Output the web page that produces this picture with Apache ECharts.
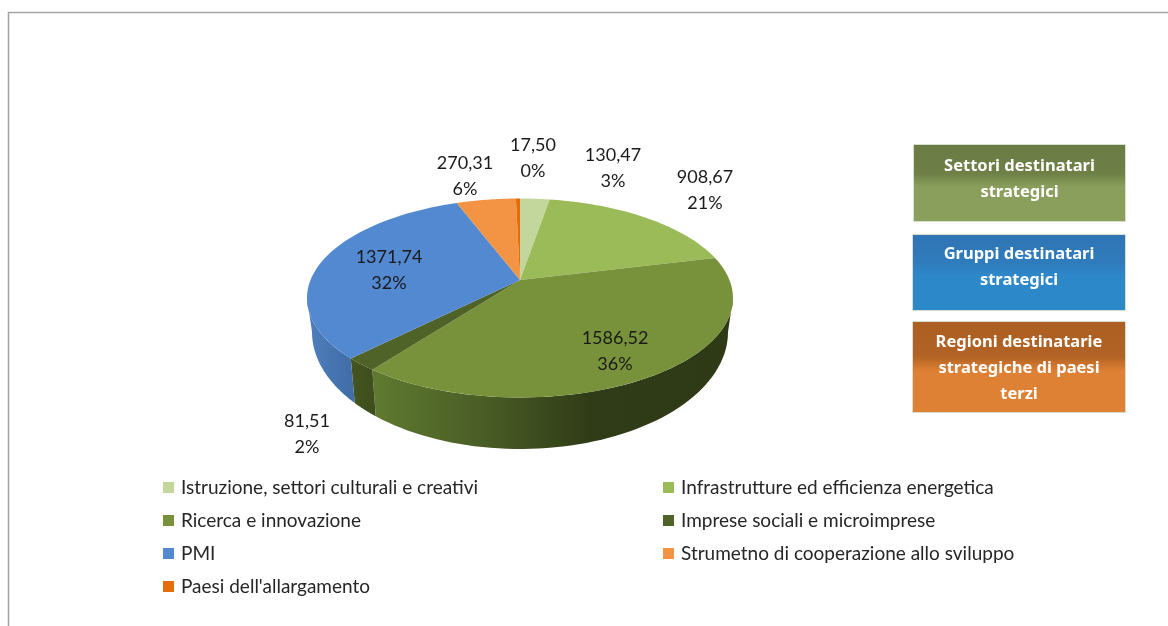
<!DOCTYPE html>
<html>
<head>
<meta charset="utf-8">
<style>
    html, body { margin: 0; padding: 0; background: #fff; }
    #chart { width: 1168px; height: 626px; }
</style>
<script src="https://cdn.jsdelivr.net/npm/echarts@6/dist/echarts.min.js"></script>
</head>
<body>
<div id="chart"></div>
<script>
'use strict';

// clockwise from 12 o'clock
var categories = [
    'Istruzione, settori culturali e creativi',
    'Infrastrutture ed efficienza energetica',
    'Ricerca e innovazione',
    'Imprese sociali e microimprese',
    'PMI',
    'Strumetno di cooperazione allo sviluppo',
    "Paesi dell'allargamento"
];
var values = [130.47, 908.67, 1586.52, 81.51, 1371.74, 270.31, 17.50];
// as printed on the chart (PMI is printed as 32%)
var percents = [3, 21, 36, 2, 32, 6, 0];
var boxTexts = [
    'Settori destinatari\nstrategici',
    'Gruppi destinatari\nstrategici',
    'Regioni destinatarie\nstrategiche di paesi\nterzi'
];

var topColors = ['#c3d69b', '#9bbb59', '#77923a', '#4f6228', '#5289d1', '#f39344', '#e46c0a'];
var wallStops = [
    null,
    null,
    [[0, '#5f7a30'], [0.3, '#4a5e25'], [0.6, '#303c17'], [1, '#2e3915']],
    [[0, '#44551f'], [1, '#3e4d1c']],
    [[0, '#4f7fbe'], [1, '#3f6ca6']],
    null,
    null
];
var labelPos = [[613, 168], [705, 190], [615, 351], [307, 434], [389, 270], [465, 176], [533, 158]];

// top face of the pie
var CX = 520, CY = 298, RX = 213, RY = 99.5;
// apex sits above the ellipse centre because of the perspective
var APEX_Y = 280;
var TILT = 0.5;
var WARP = 8.5 * Math.PI / 180;
// bottom rim
var BOTTOM_CY = 332, BOTTOM_RX = 208, BOTTOM_RY = 117;

var total = values.reduce(function (a, b) { return a + b; }, 0);

// point of the top rim for a data angle (radians, clockwise from 12)
function rimParam(a) {
    var s = Math.sin(a);
    var w = a - WARP * s * Math.abs(s);
    var dx = Math.sin(w), dy = -TILT * Math.cos(w);
    var oy = APEX_Y - CY;
    var A = dx * dx / (RX * RX) + dy * dy / (RY * RY);
    var B = 2 * oy * dy / (RY * RY);
    var C = oy * oy / (RY * RY) - 1;
    var r = (-B + Math.sqrt(B * B - 4 * A * C)) / (2 * A);
    var x = r * dx, y = oy + r * dy;
    var t = Math.atan2(x / RX, -y / RY);
    return t < 0 ? t + Math.PI * 2 : t;
}

function topPoint(t) {
    return [CX + RX * Math.sin(t), CY - RY * Math.cos(t)];
}

function bottomPoint(t) {
    return [CX + BOTTOM_RX * Math.sin(t), BOTTOM_CY - BOTTOM_RY * Math.cos(t)];
}

function sliceRender(index) {
    return function (params, api) {
        var before = values.slice(0, index).reduce(function (a, b) { return a + b; }, 0);
        var a0 = before / total * Math.PI * 2;
        var a1 = (before + api.value(0)) / total * Math.PI * 2;
        var t0 = a0 === 0 ? 0 : rimParam(a0);
        var t1 = index === values.length - 1 ? Math.PI * 2 : rimParam(a1);
        var children = [];
        var i, n = 60;

        var top = [[CX, APEX_Y]];
        for (i = 0; i <= n; i++) {
            top.push(topPoint(t0 + (t1 - t0) * i / n));
        }
        children.push({
            type: 'polygon',
            z2: 2,
            shape: { points: top },
            style: { fill: topColors[index] }
        });

        // only the front half of the rim shows a wall
        var w0 = Math.max(t0, Math.PI / 2), w1 = Math.min(t1, Math.PI * 1.5);
        if (w1 > w0) {
            var upper = [], lower = [];
            for (i = 0; i <= n; i++) {
                var t = w0 + (w1 - w0) * i / n;
                upper.push(topPoint(t));
                lower.unshift(bottomPoint(t));
            }
            var stops = wallStops[index] || [[0, topColors[index]], [1, topColors[index]]];
            children.push({
                type: 'polygon',
                z2: 1,
                shape: { points: upper.concat(lower) },
                style: {
                    fill: new echarts.graphic.LinearGradient(0, 0, 1, 0, stops.map(function (s) {
                        return { offset: s[0], color: s[1] };
                    }))
                }
            });
        }

        children.push({
            type: 'text',
            z2: 3,
            x: labelPos[index][0],
            y: labelPos[index][1],
            style: {
                text: api.value(0).toFixed(2).replace('.', ',') + '\n' + percents[index] + '%',
                fill: '#1a1a1a',
                font: '18px Lato',
                lineHeight: 26,
                align: 'center',
                verticalAlign: 'middle'
            }
        });

        return { type: 'group', children: children };
    };
}

function box(x, y, w, h, c0, c1, c2, text, textShift) {
    return {
        type: 'rect',
        shape: { x: x, y: y, width: w, height: h },
        style: {
            fill: new echarts.graphic.LinearGradient(0, 0, 0, 1, [
                { offset: 0, color: c0 },
                { offset: 0.38, color: c1 },
                { offset: 0.55, color: c2 },
                { offset: 1, color: c2 }
            ]),
            stroke: '#d8dfd0',
            lineWidth: 1
        },
        textContent: {
            style: {
                text: text,
                fill: '#fff',
                font: 'bold 16.5px "Noto Sans"',
                lineHeight: 26,
                align: 'center'
            }
        },
        textConfig: { position: 'inside', offset: [0, textShift] }
    };
}

var chart = echarts.init(document.getElementById('chart'), null, { renderer: 'canvas' });

var series = categories.map(function (name, i) {
    return {
        name: name,
        type: 'custom',
        coordinateSystem: 'none',
        silent: true,
        itemStyle: { color: topColors[i] },
        renderItem: sliceRender(i),
        data: [[values[i]]]
    };
});

chart.setOption({
    animation: false,
    backgroundColor: '#fff',
    legend: {
        left: 163,
        top: 478,
        width: 1000,
        padding: 0,
        itemGap: 14,
        itemWidth: 11,
        itemHeight: 11,
        icon: 'rect',
        selectedMode: false,
        textStyle: {
            width: 468,
            height: 11,
            lineHeight: 11,
            padding: [0, 0, 0, 2],
            fontFamily: 'Lato',
            fontSize: 19,
            color: '#262626'
        },
        data: categories
    },
    graphic: [
        // frame of the pasted chart
        {
            type: 'polyline',
            shape: { points: [[8.5, 626], [8.5, 12.5], [1168, 12.5]] },
            style: { stroke: '#a3a3a3', lineWidth: 1.5, fill: null }
        },
        box(913.5, 144.5, 212, 77, '#6a7b44', '#6e8046', '#8a9f5c', boxTexts[0], -4),
        box(912.5, 234.5, 213, 76, '#3074b4', '#2f7cbc', '#2d88c9', boxTexts[1], -5),
        box(912.5, 321.5, 213, 91, '#ac5f22', '#b16224', '#df8134', boxTexts[2], 1)
    ],
    series: series
});
</script>
</body>
</html>
